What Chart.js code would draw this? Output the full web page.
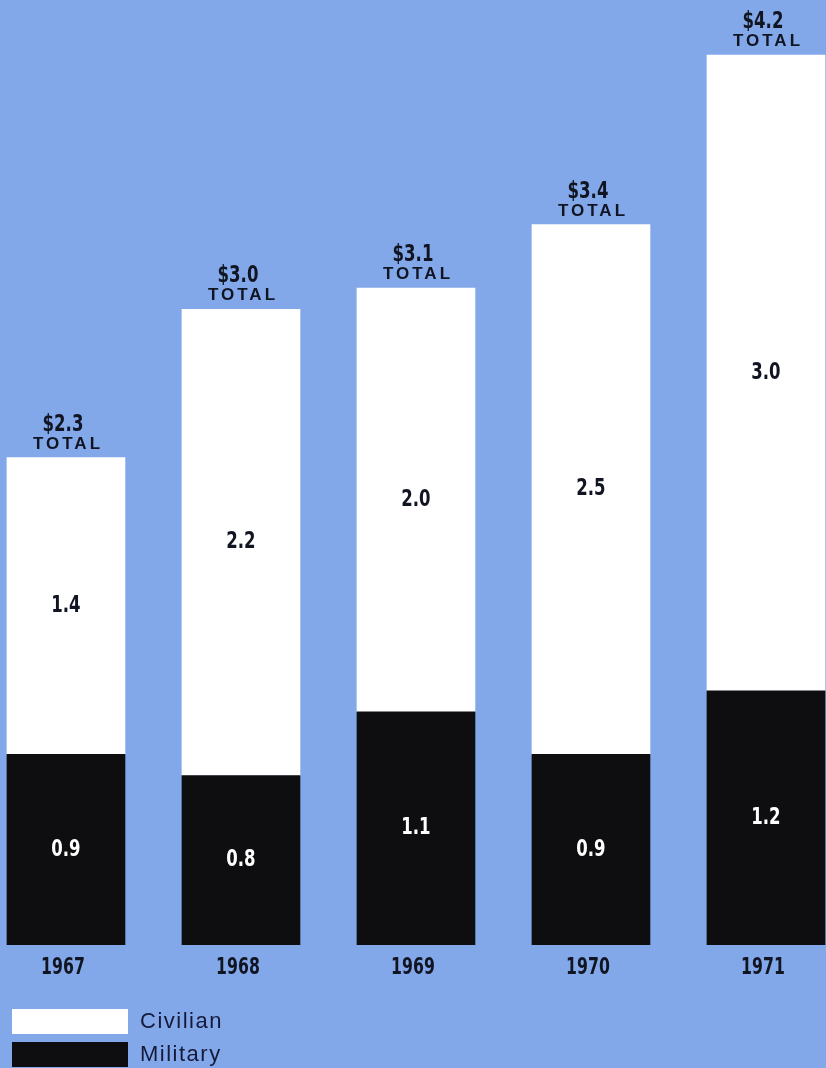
<!DOCTYPE html>
<html>
<head>
<meta charset="utf-8">
<script src="https://cdn.jsdelivr.net/npm/chart.js@4.4.1/dist/chart.umd.min.js"></script>
<style>
  html, body { margin: 0; padding: 0; background: #82a8e9; }
  #chartBox { width: 826px; height: 1068px; }
</style>
</head>
<body>
<div id="chartBox"><canvas id="myChart"></canvas></div>
<script>
// Federal outlays, billions of dollars
const years = ['1967', '1968', '1969', '1970', '1971'];
const military = [0.9, 0.8, 1.1, 0.9, 1.2];
const civilian = [1.4, 2.2, 2.0, 2.5, 3.0];

const NUM_FONT = 'bold 23px "DejaVu Sans Condensed", "Liberation Sans", sans-serif';

const toPoints = arr => arr.map((v, i) => ({ x: i, y: v }));

// narrow bold figures: squeeze the glyphs horizontally
function condensed(ctx, text, x, y, sx) {
  ctx.save();
  ctx.translate(x, y);
  ctx.scale(sx, 1);
  ctx.font = NUM_FONT;
  ctx.fillText(text, 0, 0);
  ctx.restore();
}

// labels inside bars, totals above, years below, and legend at bottom-left
const barLabels = {
  id: 'barLabels',
  afterDatasetsDraw(chart) {
    const { ctx } = chart;
    const xScale = chart.scales.x;
    ctx.save();
    ctx.textAlign = 'center';
    ctx.textBaseline = 'middle';

    // segment values
    chart.data.datasets.forEach((ds, di) => {
      const meta = chart.getDatasetMeta(di);
      meta.data.forEach((bar, i) => {
        const mid = (bar.y + bar.base) / 2;
        ctx.fillStyle = ds.labelColor;
        condensed(ctx, ds.data[i].y.toFixed(1), bar.x, mid, 0.8);
      });
    });

    // totals over the top segment
    const topMeta = chart.getDatasetMeta(1);
    ctx.textBaseline = 'alphabetic';
    topMeta.data.forEach((bar, i) => {
      const total = military[i] + civilian[i];
      ctx.fillStyle = '#111522';
      condensed(ctx, '$' + total.toFixed(1), bar.x - 3, bar.y - 27, 0.8);
      ctx.font = 'bold 17px "Liberation Sans", Arial, sans-serif';
      ctx.letterSpacing = '3px';
      ctx.fillText('TOTAL', bar.x + 2, bar.y - 9);
      ctx.letterSpacing = '0px';
    });

    // year labels
    ctx.fillStyle = '#111522';
    years.forEach((y, i) => {
      condensed(ctx, y, xScale.getPixelForValue(i) - 3, 974, 0.76);
    });

    // legend
    const items = [chart.data.datasets[1], chart.data.datasets[0]];
    ctx.textAlign = 'left';
    ctx.textBaseline = 'middle';
    items.forEach((ds, k) => {
      const top = 1009 + k * 33;
      ctx.fillStyle = ds.backgroundColor;
      ctx.fillRect(12, top, 116, 25);
      ctx.fillStyle = '#151a3a';
      ctx.font = '22px "Liberation Sans", Arial, sans-serif';
      ctx.letterSpacing = '1.5px';
      ctx.fillText(ds.label, 140, top + 13);
    });
    ctx.restore();
  }
};

new Chart(document.getElementById('myChart'), {
  type: 'bar',
  data: {
    datasets: [
      {
        label: 'Military',
        data: toPoints(military),
        backgroundColor: '#0e0e10',
        labelColor: '#ffffff',
        barThickness: 118
      },
      {
        label: 'Civilian',
        data: toPoints(civilian),
        backgroundColor: '#ffffff',
        labelColor: '#111522',
        barThickness: 118
      }
    ]
  },
  options: {
    responsive: true,
    maintainAspectRatio: false,
    animation: false,
    layout: { padding: { top: 0, right: 0, bottom: 123, left: 0 } },
    plugins: {
      legend: { display: false },
      tooltip: { enabled: false }
    },
    scales: {
      x: {
        type: 'linear',
        display: false,
        stacked: true,
        offset: false,
        min: -0.377,
        max: 4.343
      },
      y: {
        display: false,
        stacked: true,
        min: 0,
        max: 4.46
      }
    }
  },
  plugins: [barLabels]
});
</script>
</body>
</html>
